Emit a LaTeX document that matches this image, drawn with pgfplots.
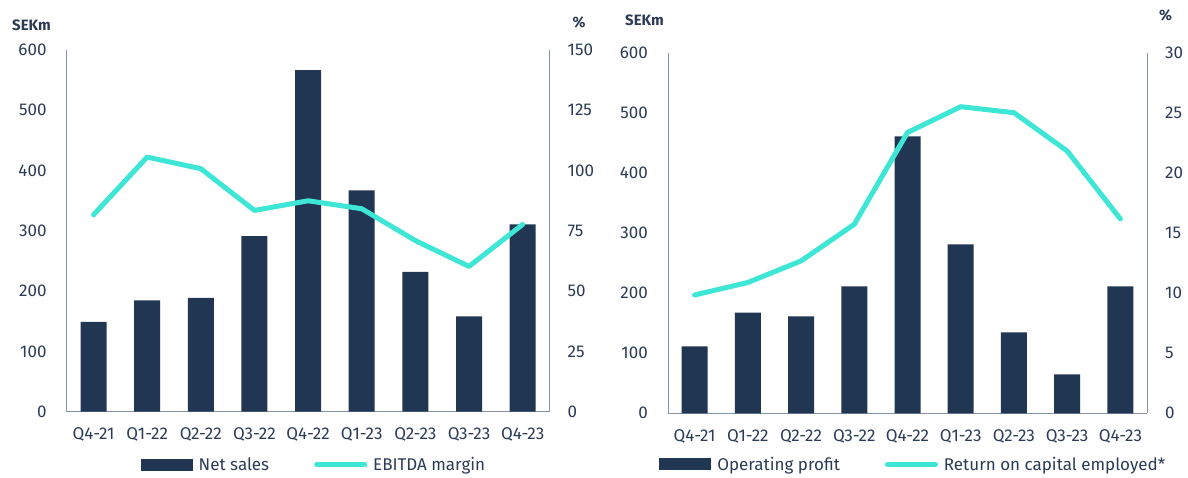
\documentclass[border=0pt]{standalone}
\usepackage{pgfplots}
\pgfplotsset{compat=1.18}
\usepackage{fontspec}
\setmainfont{Fira Sans}
\definecolor{navy}{HTML}{203652}
\definecolor{turq}{HTML}{3EE6D5}
\definecolor{textc}{HTML}{2B3B55}
\definecolor{axisc}{HTML}{8393A5}
\begin{document}
\begin{tikzpicture}[x=1pt,y=1pt]
\path[use as bounding box] (0,0) rectangle (1188,-477);
\pgfplotsset{
  base/.style={scale only axis, xmin=-0.5, xmax=8.5, ymin=0,
    major tick length=0pt, tick style={draw=none},
    axis line style={axisc, line width=1pt},
    ticklabel style={font=\fontsize{17}{20}\selectfont, text=textc},
    /pgf/number format/assume math mode=true,
  },
  leftax/.style={base, axis x line*=bottom, axis y line*=left, ymax=600,
    ytick={0,100,...,600},
    xtick={0,...,8},
    xticklabels={Q4-21,Q1-22,Q2-22,Q3-22,Q4-22,Q1-23,Q2-23,Q3-23,Q4-23},
    yticklabel style={anchor=east, inner sep=0pt, xshift=-20pt},
    xticklabel style={anchor=north, inner sep=0pt, yshift=-16pt},
    legend columns=2,
    legend style={draw=none, fill=none, inner sep=0pt, anchor=center,
      font=\fontsize{17}{20}\selectfont, text=textc,
      nodes={inner sep=0pt},
      /tikz/every odd column/.style={column sep=6pt},
      /tikz/every even column/.style={column sep=45pt}},
  },
  rightax/.style={base, axis x line=none, axis y line*=right, xtick=\empty,
    yticklabel style={anchor=west, inner sep=0pt, xshift=18pt}},
}
% ---------- Left panel ----------
\begin{axis}[leftax, at={(66.7pt,-411.7pt)}, anchor=south west,
  width=482.8pt, height=362pt,
  legend style={at={(0.51,-0.146)}}]
\addplot[ybar, bar width=26pt, fill=navy, draw=none,
  legend image code/.code={\fill[navy] (0pt,-6pt) rectangle (52pt,6pt);}]
  coordinates {(0,148.7) (1,184.5) (2,188.5) (3,291) (4,566) (5,367) (6,231.6) (7,158) (8,310.6)};
\addlegendentry{Net sales}
\addlegendimage{legend image code/.code={\draw[turq, line width=5pt, line cap=round] (2.5pt,0pt) -- (50.5pt,0pt);}}
\addlegendentry{EBITDA margin}
\end{axis}
\begin{axis}[rightax, at={(66.7pt,-411.7pt)}, anchor=south west,
  width=482.8pt, height=362pt, ymax=150, ytick={0,25,...,150}]
\addplot[turq, line width=5pt, line join=round, line cap=round, mark=none]
  coordinates {(0,81.6) (1,105.5) (2,100.7) (3,83.4) (4,87.4) (5,84.1) (6,70.9) (7,60.2) (8,77.6)};
\end{axis}
% ---------- Right panel ----------
\begin{axis}[leftax, at={(668pt,-413.3pt)}, anchor=south west,
  width=479pt, height=360pt,
  legend style={at={(0.51,-0.142)}}]
\addplot[ybar, bar width=26pt, fill=navy, draw=none,
  legend image code/.code={\fill[navy] (0pt,-6pt) rectangle (52pt,6pt);}]
  coordinates {(0,111.7) (1,168) (2,161.7) (3,211.7) (4,461.7) (5,281.7) (6,135) (7,65) (8,211.7)};
\addlegendentry{Operating profit}
\addlegendimage{legend image code/.code={\draw[turq, line width=5pt, line cap=round] (2.5pt,0pt) -- (50.5pt,0pt);}}
\addlegendentry{Return on capital employed*}
\end{axis}
\begin{axis}[rightax, at={(668pt,-413.3pt)}, anchor=south west,
  width=479pt, height=360pt, ymax=30, ytick={0,5,...,30}]
\addplot[turq, line width=5pt, line join=round, line cap=round, mark=none]
  coordinates {(0,9.86) (1,10.9) (2,12.7) (3,15.75) (4,23.4) (5,25.55) (6,25.05) (7,21.86) (8,16.2)};
\end{axis}
% ---------- unit labels ----------
\node[font=\bfseries\fontsize{15}{18}\selectfont, text=textc, anchor=west, inner sep=0pt] at (12,-25) {SEKm};
\node[font=\bfseries\fontsize{15}{18}\selectfont, text=textc, inner sep=0pt] at (579,-22) {\%};
\node[font=\bfseries\fontsize{15}{18}\selectfont, text=textc, anchor=west, inner sep=0pt] at (625,-20) {SEKm};
\node[font=\bfseries\fontsize{15}{18}\selectfont, text=textc, inner sep=0pt] at (1165.5,-15) {\%};
\end{tikzpicture}
\end{document}
